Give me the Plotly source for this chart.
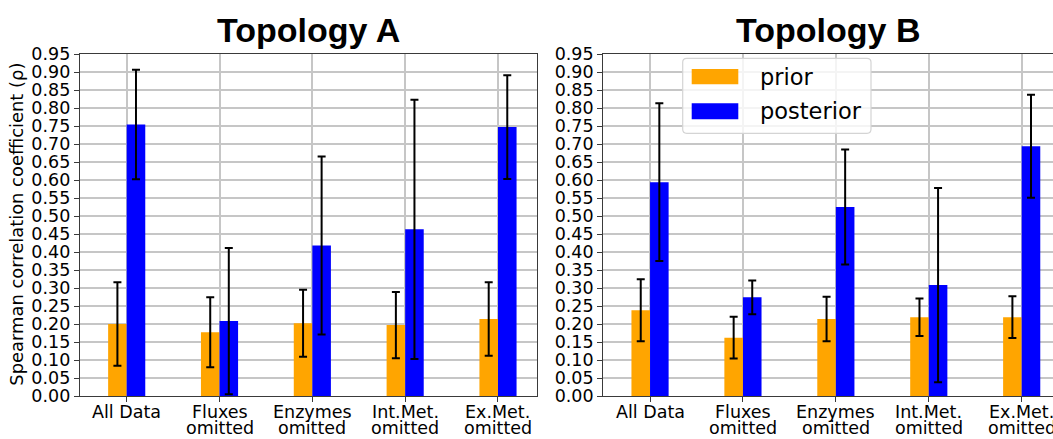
import plotly.graph_objects as go

# ---- data -------------------------------------------------------------
categories = ["All Data", "Fluxes", "Enzymes", "Int.Met.", "Ex.Met."]
second_line = ["", "omitted", "omitted", "omitted", "omitted"]
positions = [0, 1, 2, 3, 4]

prior_a = [0.200, 0.177, 0.202, 0.197, 0.214]
prior_a_err = [0.116, 0.097, 0.093, 0.092, 0.102]
posterior_a = [0.754, 0.208, 0.418, 0.463, 0.747]
posterior_a_err = [0.152, 0.203, 0.247, 0.360, 0.144]

prior_b = [0.238, 0.162, 0.214, 0.219, 0.219]
prior_b_err = [0.086, 0.058, 0.062, 0.052, 0.058]
posterior_b = [0.594, 0.274, 0.525, 0.308, 0.694]
posterior_b_err = [0.219, 0.047, 0.160, 0.270, 0.143]

y_ticks = [round(0.05 * i, 2) for i in range(20)]

# ---- geometry ---------------------------------------------------------
W, H = 1053, 439
ML, MR, MT, MB = 80, 0, 54, 43
PW, PH = W - ML - MR, H - MT - MB


def px_x(px):
    return (px - ML) / PW


def px_y(py):
    return (H - MB - py) / PH


ORANGE = "#FFA500"
BLUE = "#0000FF"
GRID = "#c6c6c6"
SPINE = "#3a3a3a"
TICK_FONT = dict(family="DejaVu Sans", size=17.5, color="black")

fig = go.Figure()


def add_panel(xa, ya, prior, prior_err, post, post_err):
    err_style = dict(type="data", color="black", thickness=2, width=4)
    fig.add_trace(go.Bar(
        x=positions, y=prior, width=0.2, offset=-0.2,
        marker=dict(color=ORANGE, line=dict(width=0)),
        error_y=dict(array=prior_err, **err_style),
        xaxis=xa, yaxis=ya, showlegend=False, name="prior"))
    fig.add_trace(go.Bar(
        x=positions, y=post, width=0.2, offset=0.0,
        marker=dict(color=BLUE, line=dict(width=0)),
        error_y=dict(array=post_err, **err_style),
        xaxis=xa, yaxis=ya, showlegend=False, name="posterior"))


add_panel("x", "y", prior_a, prior_a_err, posterior_a, posterior_a_err)
add_panel("x2", "y2", prior_b, prior_b_err, posterior_b, posterior_b_err)

x_common = dict(
    tickmode="array", tickvals=positions, showticklabels=False,
    showgrid=True, gridcolor=GRID, gridwidth=1.5,
    showline=True, linecolor=SPINE, linewidth=1.4,
    ticks="outside", ticklen=5, tickcolor=SPINE, tickwidth=1.2,
    zeroline=False, fixedrange=True,
)
y_common = dict(
    range=[0, 0.95], tickmode="array", tickvals=y_ticks,
    ticktext=[f"{v:.2f}" for v in y_ticks],
    showgrid=True, gridcolor=GRID, gridwidth=1.5,
    showline=True, linecolor=SPINE, linewidth=1.4,
    ticks="outside", ticklen=5, tickcolor=SPINE, tickwidth=1.2,
    tickfont=TICK_FONT, zeroline=False, fixedrange=True,
)

left_dom = [0, px_x(536.7)]
right_dom = [px_x(603.3), 1]

fig.update_layout(
    width=W, height=H,
    margin=dict(l=ML, r=MR, t=MT, b=MB, pad=0),
    paper_bgcolor="white", plot_bgcolor="white",
    barmode="overlay", showlegend=False,
    xaxis=dict(domain=left_dom, range=[-0.503, 4.417], mirror=True,
               anchor="y", **x_common),
    yaxis=dict(domain=[0, 1], anchor="x", mirror=True, **y_common),
    xaxis2=dict(domain=right_dom, range=[-0.503, 4.337], mirror=True,
                anchor="y2", **x_common),
    yaxis2=dict(domain=[0, 1], anchor="x2", mirror=False, **y_common),
)

annotations = []

# panel titles
for dom, title in [(left_dom, "Topology A"), (right_dom, "Topology B")]:
    annotations.append(dict(
        text=title, xref="paper", yref="paper",
        x=(dom[0] + dom[1]) / 2, y=1, xanchor="center", yanchor="middle",
        yshift=MT - 30, showarrow=False,
        font=dict(family="Liberation Sans", size=34, color="black",
                  weight="bold")))

# two-line category labels under each panel
for xa in ["x", "x2"]:
    for pos, first, second in zip(positions, categories, second_line):
        annotations.append(dict(
            text=first, xref=xa, yref="paper", x=pos, y=0,
            xanchor="center", yanchor="middle", yshift=-(412 - (H - MB)),
            showarrow=False, font=TICK_FONT))
        if second:
            annotations.append(dict(
                text=second, xref=xa, yref="paper", x=pos, y=0,
                xanchor="center", yanchor="middle", yshift=-(428 - (H - MB)),
                showarrow=False, font=TICK_FONT))

# y-axis title
annotations.append(dict(
    text="Spearman correlation coefficient (\u03c1)",
    xref="paper", yref="paper", x=0, y=px_y(224.2), xanchor="center",
    yanchor="middle", xshift=-(ML - 16.5), textangle=-90, showarrow=False,
    font=dict(family="DejaVu Sans", size=17.9, color="black")))

# legend inside the right panel
lx0, lx1, ly0, ly1, r = 682.7, 871.0, 58.3, 133.3, 4.0


def rounded_rect(x0, y0, x1, y1, rad):
    X = lambda v: px_x(v)
    Y = lambda v: px_y(v)
    return (f"M {X(x0 + rad)},{Y(y0)} L {X(x1 - rad)},{Y(y0)} "
            f"Q {X(x1)},{Y(y0)} {X(x1)},{Y(y0 + rad)} "
            f"L {X(x1)},{Y(y1 - rad)} Q {X(x1)},{Y(y1)} {X(x1 - rad)},{Y(y1)} "
            f"L {X(x0 + rad)},{Y(y1)} Q {X(x0)},{Y(y1)} {X(x0)},{Y(y1 - rad)} "
            f"L {X(x0)},{Y(y0 + rad)} Q {X(x0)},{Y(y0)} {X(x0 + rad)},{Y(y0)} Z")


shapes = [dict(type="path", xref="paper", yref="paper",
               path=rounded_rect(lx0, ly0, lx1, ly1, r),
               fillcolor="rgba(255,255,255,0.8)",
               line=dict(color="#d4d4d4", width=1.2), layer="above")]

legend_items = [("prior", ORANGE, 69.0, 84.3), ("posterior", BLUE, 103.3, 119.3)]
for label, color, y0, y1 in legend_items:
    shapes.append(dict(type="rect", xref="paper", yref="paper",
                       x0=px_x(691.7), x1=px_x(738.3),
                       y0=px_y(y1), y1=px_y(y0),
                       fillcolor=color, line=dict(width=0), layer="above"))
    annotations.append(dict(
        text=label, xref="paper", yref="paper",
        x=px_x(757.5), y=px_y((y0 + y1) / 2), xanchor="left",
        yanchor="middle", showarrow=False,
        font=dict(family="DejaVu Sans", size=22.5, color="black")))

fig.update_layout(annotations=annotations, shapes=shapes)

fig.write_html("out.html")
